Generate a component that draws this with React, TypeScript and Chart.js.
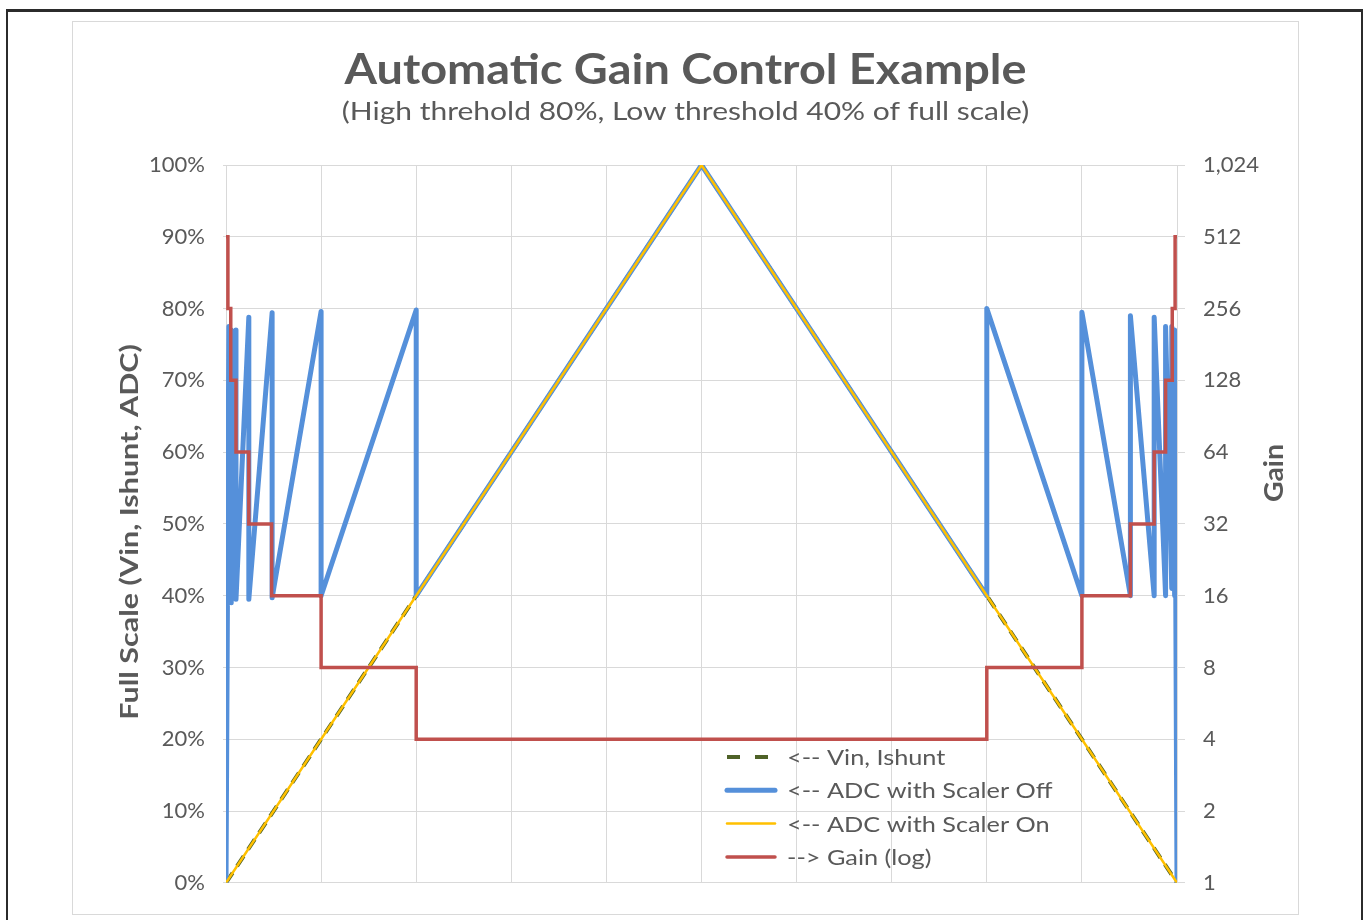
import React, { useEffect, useRef } from "react";
import { Chart, registerables } from "chart.js";

Chart.register(...registerables);

// ---------- text ----------
const titleText = "Automatic Gain Control Example";
const subtitleText = "(High threhold 80%, Low threshold 40% of full scale)";
const leftAxisTitle = "Full Scale (Vin, Ishunt, ADC)";
const rightAxisTitle = "Gain";
const seriesLabels = [
  "<-- Vin, Ishunt",
  "<-- ADC with Scaler Off",
  "<-- ADC with Scaler On",
  "--> Gain (log)",
];

// ---------- data (x = time in grid divisions, y = % full scale) ----------
const vinX = [0, 5, 10];
const vinY = [0, 100, 0];

const adcOnX = [0, 5, 10];
const adcOnY = [0, 100, 0];

const adcOffX = [
  0, 0.03, 0.03, 0.055, 0.055, 0.105, 0.105, 0.24, 0.24, 0.485, 0.485, 1.0, 1.0,
  2.0, 2.0, 5, 8, 8, 9, 9, 9.51, 9.51, 9.76, 9.76, 9.88, 9.88, 9.945, 9.945,
  9.975, 9.975, 10,
];
const adcOffY = [
  0, 77.5, 39, 77, 39, 77, 39.5, 78.8, 39.5, 79.4, 39.7, 79.6, 40, 79.8, 40,
  100, 40, 80, 40, 79.5, 40, 79, 40, 78.8, 40, 77.5, 41, 77.5, 40, 77, 0,
];

const gainX = [0, 0.02, 0.05, 0.105, 0.24, 0.48, 1, 2, 8, 9, 9.51, 9.76, 9.88, 9.95, 9.98, 10];
const gainY = [512, 256, 128, 64, 32, 16, 8, 4, 8, 16, 32, 64, 128, 256, 512, 512];

const leftTicks = [0, 10, 20, 30, 40, 50, 60, 70, 80, 90, 100];
const gainTicks = [1, 2, 4, 8, 16, 32, 64, 128, 256, 512, 1024];

const zip = (xs: number[], ys: number[]) => xs.map((x, i) => ({ x, y: ys[i] }));

const TEXT = "#595959";
const GRID = "#d9d9d9";

function drawText(
  ctx: CanvasRenderingContext2D,
  text: string,
  x: number,
  y: number,
  font: string,
  stretch: number,
  rotate: number,
  align: CanvasTextAlign,
  baseline: CanvasTextBaseline
) {
  ctx.save();
  ctx.translate(x, y);
  if (rotate) ctx.rotate(rotate);
  ctx.scale(stretch, 1);
  ctx.font = font;
  ctx.fillStyle = TEXT;
  ctx.textAlign = align;
  ctx.textBaseline = baseline;
  ctx.fillText(text, 0, 0);
  ctx.restore();
}

const overlayPlugin = {
  id: "overlay",
  afterDraw(chart: any) {
    const { ctx, chartArea, width } = chart;
    ctx.save();
    // titles
    drawText(ctx, titleText, width / 2, 62, "bold 42px Lato", 1.115, 0, "center", "alphabetic");
    drawText(ctx, subtitleText, width / 2, 98, "25px Lato", 1.2, 0, "center", "alphabetic");

    // axis titles
    drawText(
      ctx,
      leftAxisTitle,
      chartArea.left - 88,
      (chartArea.top + chartArea.bottom) / 2 + 8,
      "bold 24px Lato",
      1.27,
      -Math.PI / 2,
      "center",
      "alphabetic"
    );
    drawText(
      ctx,
      rightAxisTitle,
      chartArea.right + 106,
      chartArea.top + 308,
      "bold 27px Lato",
      1.05,
      -Math.PI / 2,
      "center",
      "alphabetic"
    );

    // inline legend
    const x0 = chartArea.left + 501;
    const y0 = chartArea.top + 592;
    const rowH = 33.3;
    chart.data.datasets.forEach((ds: any, i: number) => {
      const y = y0 + i * rowH;
      ctx.save();
      ctx.strokeStyle = ds.borderColor;
      ctx.lineWidth = ds.borderWidth;
      ctx.lineCap = ds.borderDash ? "butt" : "round";
      if (ds.borderDash) ctx.setLineDash([13, 15]);
      ctx.beginPath();
      ctx.moveTo(x0, y);
      ctx.lineTo(x0 + (ds.borderDash ? 45 : 48), y);
      ctx.stroke();
      ctx.restore();
      drawText(ctx, ds.label, x0 + 60, y + 1, "22px Lato", 1.15, 0, "left", "middle");
    });
    ctx.restore();
  },
};

function AgcChart() {
  const ref = useRef<HTMLCanvasElement | null>(null);
  useEffect(() => {
    if (!ref.current) return;
    Chart.defaults.font.family = "Lato";
    const chart = new Chart(ref.current, {
      type: "line",
      data: {
        datasets: [
          {
            label: seriesLabels[0],
            data: zip(vinX, vinY),
            borderColor: "#4f6228",
            borderWidth: 4,
            borderDash: [12, 8],
            pointRadius: 0,
            yAxisID: "y",
            order: 4,
          },
          {
            label: seriesLabels[1],
            data: zip(adcOffX, adcOffY),
            borderColor: "#5590da",
            borderWidth: 5,
            borderJoinStyle: "round",
            borderCapStyle: "round",
            pointRadius: 0,
            yAxisID: "y",
            order: 3,
          },
          {
            label: seriesLabels[2],
            data: zip(adcOnX, adcOnY),
            borderColor: "#ffc000",
            borderWidth: 2.5,
            pointRadius: 0,
            yAxisID: "y",
            order: 2,
          },
          {
            label: seriesLabels[3],
            data: zip(gainX, gainY),
            borderColor: "#c0504d",
            borderWidth: 3.5,
            stepped: "before",
            pointRadius: 0,
            yAxisID: "y1",
            order: 1,
          },
        ] as any,
      },
      options: {
        animation: false,
        responsive: false,
        maintainAspectRatio: false,
        layout: { padding: { top: 143, left: 0, right: 0, bottom: 29 } },
        plugins: {
          legend: { display: false },
          title: { display: false },
          tooltip: { enabled: false },
        },
        scales: {
          x: {
            type: "linear",
            min: 0,
            max: 10,
            ticks: { display: false, stepSize: 1 },
            grid: { color: GRID, drawTicks: false, lineWidth: 1 },
            border: { color: GRID },
            afterFit: (s: any) => {
              s.height = 0;
            },
          },
          y: {
            type: "linear",
            position: "left",
            min: 0,
            max: 100,
            afterBuildTicks: (s: any) => {
              s.ticks = leftTicks.map((v) => ({ value: v }));
            },
            ticks: {
              color: TEXT,
              font: { size: 22, family: "Lato" },
              padding: 18,
              callback: (v: any) => v + "%",
            },
            grid: { color: GRID, tickLength: 3 },
            border: { color: GRID },
            afterFit: (s: any) => {
              s.width = 153;
            },
          },
          y1: {
            type: "logarithmic",
            position: "right",
            min: 1,
            max: 1024,
            afterBuildTicks: (s: any) => {
              s.ticks = gainTicks.map((v) => ({ value: v }));
            },
            ticks: {
              color: TEXT,
              font: { size: 22, family: "Lato" },
              padding: 18,
              callback: (v: any) => Number(v).toLocaleString("en-US"),
            },
            grid: { color: GRID, drawOnChartArea: false, drawTicks: true, tickLength: 8 },
            border: { color: GRID },
            afterFit: (s: any) => {
              s.width = 121;
            },
          },
        },
      } as any,
      plugins: [overlayPlugin],
    });
    return () => chart.destroy();
  }, []);
  return (
    <canvas
      ref={ref}
      width={1225}
      height={892}
      style={{ position: "absolute", left: 73, top: 22, width: 1225, height: 892 }}
    />
  );
}

export default function App() {
  return (
    <div
      style={{
        position: "absolute",
        left: 0,
        top: 0,
        width: 1368,
        height: 920,
        background: "#ffffff",
        overflow: "hidden",
      }}
    >
      <div
        style={{
          position: "absolute",
          left: 6,
          top: 9,
          width: 1353,
          height: 930,
          borderTop: "3px solid #2b2b2b",
          borderLeft: "2px solid #2b2b2b",
          borderRight: "2px solid #2b2b2b",
        }}
      />
      <div
        style={{
          position: "absolute",
          left: 72,
          top: 21,
          width: 1225,
          height: 892,
          border: "1px solid #d9d9d9",
        }}
      />
      <AgcChart />
    </div>
  );
}
